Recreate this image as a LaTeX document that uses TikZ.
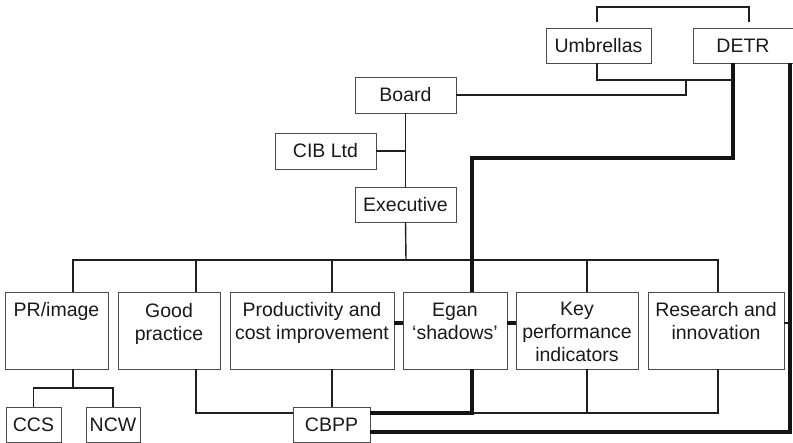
\documentclass[tikz,border=0pt]{standalone}
\usepackage{fontspec}
\setmainfont{Liberation Sans}
\begin{document}
\begin{tikzpicture}[x=1pt,y=-1pt,
  every node/.style={font=\fontsize{19.5}{23.3}\selectfont, text=black!90, inner sep=0pt, outer sep=0pt},
  box/.style={draw=black!70, line width=0.9pt, anchor=north west, align=center},
  % text height runs from the box top to the baseline of the last line
  toptext/.style 2 args={text height=#1, text depth=#2},
  conn/.style={draw=black!88, line width=1.4pt},
  heavy/.style={draw=black!92, line width=4pt, line join=miter},
]
\useasboundingbox (0,0) rectangle (793,443);

% upper boxes
\node[box, minimum width=105pt, minimum height=35pt] (umb)   at (546,28)  {Umbrellas};
\node[box, minimum width=100pt, minimum height=35pt] (detr)  at (693,28)  {DETR};
\node[box, minimum width=101pt, minimum height=36pt] (board) at (355,77)  {Board};
\node[box, minimum width=101pt, minimum height=36pt] (cib)   at (275,133) {CIB Ltd};
\node[box, minimum width=101pt, minimum height=35pt] (exec)  at (355,187) {Executive};

% main row, text set near the top of each box
\node[box, minimum width=103pt, toptext={24.5pt}{52.5pt}] (pr)   at (5,292)   {PR/image};
\node[box, minimum width=102pt, toptext={48.5pt}{28.5pt}] (good) at (118,292) {Good\\practice};
\node[box, minimum width=164pt, toptext={47.5pt}{29.5pt}] (prod) at (230,292) {Productivity and\\cost improvement};
\node[box, minimum width=104pt, toptext={48pt}{29pt}]     (egan) at (403,292) {Egan\\‘shadows’};
\node[box, minimum width=122pt, toptext={70pt}{7pt}]      (kpi)  at (516,292) {Key\\performance\\indicators};
\node[box, minimum width=136pt, toptext={47.5pt}{29.5pt}] (res)  at (648,292) {Research and\\innovation};

% bottom row
\node[box, minimum width=55pt, minimum height=35pt] (ccs)  at (6,407)   {CCS};
\node[box, minimum width=54pt, minimum height=35pt] (ncw)  at (86,407)  {NCW};
\node[box, minimum width=77pt, minimum height=35pt] (cbpp) at (293,407) {CBPP};

% bracket above Umbrellas and DETR
\coordinate (bl) at (597,22);
\coordinate (br) at (749,22);
\draw[conn] (bl) -- ++(0,-15) -| (br);

% Umbrellas and Board tie into the DETR trunk
\draw[conn] (umb.south -| 597,0) |- (733,80);
\draw[conn] (board.east) -| (686,80);

% Board - Executive spine
\draw[conn] (board.south) -- (exec.north);
\draw[conn] (cib.east) -- (cib.east -| board.south);
\draw[conn] (exec.south) -- (406,260);

% bus over the main row
\draw[conn] (pr.north -| 73,0) -- (73,260) -| (res.north -| 718,0);
\draw[conn] (good.north -| 196,0) -- (196,260);
\draw[conn] (prod.north -| 332,0) -- (332,260);
\draw[conn] (kpi.north -| 587,0) -- (587,260);

% PR/image children
\draw[conn] (pr.south -| 73,0) -- (73,388);
\draw[conn] (ccs.north) |- (73,388) -| (ncw.north);

% links down to CBPP
\draw[conn] (good.south -| 196,0) |- (cbpp.west |- 0,413);
\draw[conn] (prod.south -| 332,0) -- (cbpp.north -| 332,0);
\draw[conn] (kpi.south -| 587,0) -- (587,413);
\draw[conn] (res.south -| 718,0) |- (472,413);
\draw[conn] (res.east |- 0,323) -- (790,323);

% heavy links
\draw[heavy] (prod.east |- 0,323) -- (egan.west |- 0,323);
\draw[heavy] (egan.east |- 0,323) -- (kpi.west |- 0,323);
\draw[heavy] (detr.south -| 733,0) -- (733,158) -| (egan.north -| 472,0);
\draw[heavy] (egan.south -| 472,0) |- (cbpp.east |- 0,413);
\draw[heavy] (detr.south -| 790,0) |- (cbpp.east |- 0,432);
\end{tikzpicture}
\end{document}
